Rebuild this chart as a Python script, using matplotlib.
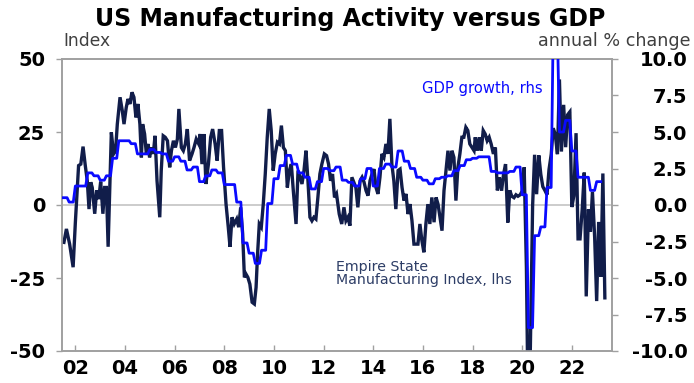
import numpy as np
import matplotlib
matplotlib.use("Agg")
import matplotlib.pyplot as plt
from matplotlib.ticker import FuncFormatter
from matplotlib.font_manager import FontProperties

# ---------------- data ----------------
# Empire State Manufacturing Index (lhs), dates as decimal years
emp_dates = [
    2001.54, 2001.64, 2001.77, 2001.91, 2002.00, 2002.13, 2002.22, 2002.31, 2002.40, 2002.48,
    2002.55, 2002.62, 2002.68, 2002.78, 2002.86, 2002.94, 2003.02, 2003.11, 2003.18, 2003.25,
    2003.32, 2003.45, 2003.54, 2003.62, 2003.69, 2003.80, 2003.89, 2003.96, 2004.05, 2004.12,
    2004.20, 2004.28, 2004.36, 2004.44, 2004.52, 2004.60, 2004.66, 2004.71, 2004.79, 2004.86,
    2004.93, 2004.99, 2005.06, 2005.14, 2005.21, 2005.29, 2005.40, 2005.46, 2005.54, 2005.62,
    2005.71, 2005.80, 2005.87, 2005.95, 2006.03, 2006.11, 2006.17, 2006.27, 2006.35, 2006.43,
    2006.51, 2006.60, 2006.70, 2006.78, 2006.87, 2006.97, 2007.03,
    2007.10, 2007.18, 2007.26, 2007.36, 2007.45, 2007.53, 2007.63, 2007.71, 2007.80, 2007.89,
    2007.97, 2008.07, 2008.16, 2008.23, 2008.31, 2008.40, 2008.50, 2008.58, 2008.66, 2008.74,
    2008.81, 2008.87, 2008.95, 2009.03, 2009.12, 2009.21, 2009.28, 2009.34, 2009.41, 2009.49,
    2009.57, 2009.65, 2009.73, 2009.81, 2009.89, 2009.97, 2010.05, 2010.14, 2010.22, 2010.30,
    2010.38, 2010.46, 2010.54, 2010.62, 2010.70, 2010.78, 2010.89, 2010.97, 2011.05, 2011.13,
    2011.21, 2011.29, 2011.37, 2011.45, 2011.53, 2011.61, 2011.69, 2011.77, 2011.85, 2011.93,
    2012.03, 2012.12, 2012.20, 2012.28, 2012.36, 2012.44, 2012.52, 2012.63,
    2012.73, 2012.82, 2012.90, 2012.98, 2013.06, 2013.14, 2013.22, 2013.30, 2013.38, 2013.47,
    2013.55, 2013.63, 2013.71, 2013.79, 2013.87, 2013.95, 2014.03, 2014.11, 2014.19, 2014.27,
    2014.35, 2014.43, 2014.51, 2014.59, 2014.67, 2014.75, 2014.83, 2014.91, 2015.00, 2015.08,
    2015.16, 2015.24, 2015.32, 2015.40, 2015.48, 2015.56, 2015.64, 2015.72, 2015.80, 2015.88,
    2015.96, 2016.04, 2016.12, 2016.20, 2016.28, 2016.36, 2016.45, 2016.53, 2016.61, 2016.69,
    2016.77, 2016.85, 2016.93, 2017.01, 2017.09, 2017.17, 2017.25, 2017.33, 2017.41, 2017.49,
    2017.57, 2017.65, 2017.73, 2017.81, 2017.89, 2017.98, 2018.06,
    2018.11, 2018.19, 2018.27, 2018.35, 2018.43, 2018.51, 2018.59, 2018.67, 2018.75, 2018.84,
    2018.92,
    2019.00, 2019.08, 2019.17, 2019.25, 2019.33, 2019.42, 2019.50, 2019.58, 2019.67, 2019.75,
    2019.83, 2019.92,
    2020.00, 2020.08, 2020.17, 2020.25, 2020.33, 2020.42, 2020.50, 2020.58, 2020.67, 2020.75,
    2020.83, 2020.92,
    2021.00, 2021.08, 2021.17, 2021.25, 2021.33, 2021.42, 2021.50, 2021.58, 2021.67, 2021.75,
    2021.83, 2021.92,
    2022.00, 2022.08, 2022.17, 2022.25, 2022.33, 2022.42, 2022.50, 2022.58, 2022.67, 2022.75,
    2022.83, 2022.92,
    2023.00, 2023.08, 2023.17, 2023.25, 2023.33,
]
emp_values = [
    -12.8, -8.2, -13.4, -21.3, -6.0, 13.5, 14.0, 20.0, 13.5, 8.3,
    -1.4, 7.8, 6.0, -3.0, 5.0, 2.0, 8.0, -3.0, 6.0, 6.0,
    -14.3, 24.9, 17.5, 18.6, 27.7, 36.9, 32.3, 27.7, 33.4, 36.3,
    34.6, 38.6, 36.9, 30.0, 34.6, 27.7, 16.3, 27.7, 24.3, 17.5,
    20.9, 16.3, 19.7, 17.5, 23.7, 8.3, -4.2, 11.8, 23.7, 23.2,
    22.0, 12.9, 18.6, 22.0, 19.7, 22.6, 32.9, 19.7, 18.6, 20.9,
    26.0, 15.2, 17.5, 19.7, 22.6, 20.9, 24.3,
    14.0, 24.3, 7.2, 14.0, 23.2, 26.0, 20.9, 15.2, 25.5, 25.5,
    12.9, 0.3, -7.6, -14.3, -4.2, -6.5, -4.8, -7.6, -0.8, -9.9,
    -24.8, -23.6, -24.8, -27.1, -33.3, -33.9, -28.2, -16.8, -6.5, -7.6,
    0.3, 10.6, 23.2, 32.9, 25.5, 11.8, 17.5, 21.5, 20.9, 27.2,
    19.7, 18.6, 6.0, 11.8, 14.0, 4.9, -6.5, 11.8, 9.5, 7.2,
    11.8, 18.6, 8.3, -4.2, -5.4, -4.2, -4.8, 2.6, 10.6, 14.0,
    17.5, 16.9, 14.0, 8.3, 10.6, 2.6, 3.8, -3.1,
    -6.5, -0.8, -5.4, -4.2, -7.1, 9.5, 7.8, 6.0, -0.8, 8.3,
    9.5, 7.8, 4.9, 3.2, 8.3, 10.6, 12.3, 6.0, 3.8, 9.5,
    17.5, 16.3, 20.9, 17.5, 29.5, 14.0, 8.3, -1.4, 11.8, 12.3,
    6.0, 1.5, 3.8, -3.1, 0.3, -5.4, -13.4, -13.4, -13.4, -6.5,
    -12.2, -16.2, -6.5, 0.3, -6.5, 2.6, -5.9, 2.6, 0.3, -4.2,
    -8.8, 4.9, 11.8, 18.6, 11.8, 18.6, 16.3, 1.5, 12.9, 17.5,
    23.2, 23.2, 26.6, 25.5, 20.9, 19.7, 18.6,
    23.2, 18.6, 23.2, 18.6, 25.5, 24.3, 22.0, 23.2, 20.9, 17.5,
    19.7,
    5.0, 9.5, 4.9, 10.6, 14.0, -6.0, 5.0, 3.0, 2.5, 3.5,
    3.0, 3.5,
    4.8, 12.9, -21.5, -78.2, -48.5, -0.2, 17.2, 3.7, 17.0, 10.5,
    6.3, 4.9,
    3.5, 12.1, 17.4, 26.3, 24.3, 17.4, 43.0, 18.3, 34.3, 19.8,
    30.9, 31.9,
    -0.7, 3.1, 24.6, -11.6, -11.6, -1.2, 11.1, -31.3, -1.5, -9.1,
    4.5, -11.2,
    -32.9, -5.8, -24.6, 10.8, -31.8,
]

# GDP growth, annual % change (rhs), quarterly from 2001 Q3 to 2023 Q1
gdp_start = 2001.5
gdp_quarterly = [
    0.5, 0.2,
    1.3, 1.3, 2.2, 2.0,
    1.7, 2.0, 3.2, 4.4,
    4.4, 4.2, 3.5, 3.5,
    3.8, 3.6, 3.5, 3.0,
    3.3, 3.0, 2.4, 2.6,
    1.6, 2.0, 2.4, 2.2,
    1.4, 1.4, 0.2, -2.6,
    -3.3, -4.0, -3.1, 0.1,
    1.8, 2.7, 3.4, 2.8,
    2.2, 1.9, 1.1, 1.6,
    2.5, 2.35, 2.6, 1.7,
    1.55, 1.3, 1.8, 2.5,
    1.3, 2.5, 2.8, 2.6,
    3.7, 3.0, 2.5, 1.9,
    1.7, 1.45, 1.8, 1.9,
    2.0, 2.35, 2.7, 3.1,
    3.2, 3.3, 3.3, 2.3,
    2.2, 2.2, 2.3, 2.6,
    0.7, -8.4, -2.1, -1.5,
    1.2, 12.2, 5.0, 5.8,
    3.7, 1.9, 1.9, 1.0,
    1.6,
]

year_ticks = list(range(2002, 2023, 2))
year_labels = [f"{y % 100:02d}" for y in year_ticks]
left_ticks = [-50, -25, 0, 25, 50]
right_ticks = [-10.0, -7.5, -5.0, -2.5, 0.0, 2.5, 5.0, 7.5, 10.0]

# GDP shown monthly (each quarter's value held for its three months)
gdp_values = np.repeat(gdp_quarterly, 3)
gdp_dates = gdp_start + np.arange(len(gdp_values)) / 12.0

# ---------------- styling ----------------
NAVY = "#111d4a"
NAVY_TXT = "#2d3d66"
BLUE = "#0a0aff"
SPINE = "#a0a0a0"
FONT = "DejaVu Sans"

W, H = 694, 383
fig = plt.figure(figsize=(W / 100, H / 100), dpi=100)
L, R, T, B = 61.7, 612.3, 59, 351
ax = fig.add_axes([L / W, 1 - B / H, (R - L) / W, (B - T) / H])
ax2 = ax.twinx()

ax.axhline(0, color="#c4c4c4", lw=1.2, zorder=1)
ax.plot(emp_dates, emp_values, color=NAVY, lw=2.4, solid_joinstyle="miter", zorder=3)
ax2.plot(gdp_dates, gdp_values, color=BLUE, lw=2.0, zorder=3)

ax.set_xlim(2001.45, 2023.63)
ax.set_ylim(-50, 50)
ax2.set_ylim(-10, 10)

ax.set_xticks(year_ticks)
ax.set_xticklabels(year_labels)
ax.set_yticks(left_ticks)
ax.yaxis.set_major_formatter(FuncFormatter(lambda v, p: f"{v:.0f}"))
ax2.set_yticks(right_ticks)
ax2.yaxis.set_major_formatter(FuncFormatter(lambda v, p: f"{v:.1f}"))

tick_fp = FontProperties(family=FONT, weight="bold", size=14)
for a in (ax, ax2):
    for s in a.spines.values():
        s.set_color(SPINE)
        s.set_linewidth(1.2)
ax.tick_params(axis="x", direction="in", length=4, color=SPINE, width=1, pad=6)
ax.tick_params(axis="y", direction="out", length=4.5, color=SPINE, width=1, pad=7.5)
ax2.tick_params(axis="y", direction="out", length=4.5, color=SPINE, width=1, pad=49.5)
for lab in ax.get_xticklabels() + ax.get_yticklabels():
    lab.set_fontproperties(tick_fp)
for lab in ax2.get_yticklabels():
    lab.set_fontproperties(tick_fp)
    lab.set_horizontalalignment("right")

# ---------------- text ----------------
fig.text(350 / W, 1 - 26 / H, "US Manufacturing Activity versus GDP", ha="center",
         va="baseline", family=FONT, weight="bold", size=17, color="black")
fig.text(63 / W, 1 - 46 / H, "Index", ha="left", va="baseline", family=FONT,
         size=12.3, color="#404040")
fig.text(690 / W, 1 - 46 / H, "annual % change", ha="right", va="baseline", family=FONT,
         size=12.6, color="#404040")

ax.text((422 - L) / (R - L), (B - 93) / (B - T), "GDP growth, rhs", transform=ax.transAxes,
        ha="left", va="baseline", family=FONT, size=10.6, color=BLUE, zorder=5)
ax.text((336 - L) / (R - L), (B - 271) / (B - T), "Empire State", transform=ax.transAxes,
        ha="left", va="baseline", family=FONT, size=10.2, color=NAVY_TXT, zorder=5)
ax.text((336 - L) / (R - L), (B - 284) / (B - T), "Manufacturing Index, lhs",
        transform=ax.transAxes, ha="left", va="baseline", family=FONT, size=10.2,
        color=NAVY_TXT, zorder=5)

fig.savefig("out.png", dpi=100)
